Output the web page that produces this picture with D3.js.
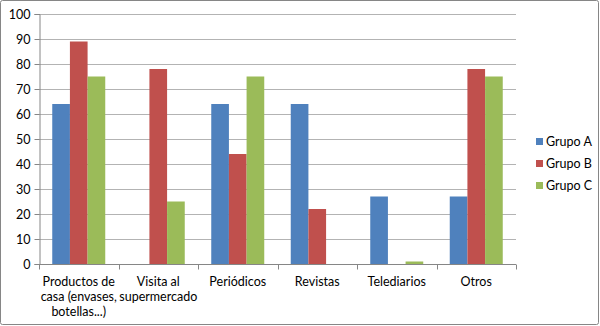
<!DOCTYPE html>
<html><head><meta charset="utf-8">
<script src="https://cdn.jsdelivr.net/npm/d3@7"></script>
<style>body{margin:0;background:#fff}svg{display:block}</style>
</head><body>
<script>
const categories = [["Productos de","casa (envases,","botellas...)"],["Visita al","supermercado"],["Periódicos"],["Revistas"],["Telediarios"],["Otros"]];
const seriesNames = ["Grupo A","Grupo B","Grupo C"];
const grupoA = [64, 0, 64, 64, 27, 27];
const grupoB = [89, 78, 44, 22, 0, 78];
const grupoC = [75, 25, 75, 0, 1, 75];
const yTicks = [0,10,20,30,40,50,60,70,80,90,100];
const colors = ["#4F81BD","#C0504D","#9BBB59"];

const W=600,H=326;
const svg=d3.select("body").append("svg").attr("width",W).attr("height",H);
svg.append("rect").attr("x",0.5).attr("y",0.5).attr("width",W-2).attr("height",H-2).attr("fill","#fff").attr("stroke","#868686").attr("rx",2);
const font="Lato, sans-serif";
const fs="12.5px";
const m={l:39,r:516,t:14,b:264};
const x0=d3.scaleBand().domain(d3.range(categories.length)).range([m.l,m.r]).paddingInner(0).paddingOuter(0);
const x1=d3.scaleBand().domain(d3.range(3)).range([x0.bandwidth()/6, x0.bandwidth()*5/6]).padding(0);
const y=d3.scaleLinear().domain([0,100]).range([m.b,m.t]);

// gridlines
svg.append("g").selectAll("line").data(yTicks.filter(d=>d>0)).join("line")
 .attr("x1",m.l).attr("x2",m.r).attr("y1",d=>Math.round(y(d))+0.5).attr("y2",d=>Math.round(y(d))+0.5)
 .attr("stroke","#B3B3B3").attr("stroke-width",1);

const data=[grupoA,grupoB,grupoC];
const g=svg.append("g");
data.forEach((s,si)=>{
  g.append("g").selectAll("rect").data(s).join("rect")
   .attr("x",(d,i)=>x0(i)+x1(si)).attr("width",x1.bandwidth())
   .attr("y",d=>y(d)).attr("height",d=>y(0)-y(d)).attr("fill",colors[si]);
});

// y axis
const ya=svg.append("g").attr("transform",`translate(${m.l+0.5},0)`)
 .call(d3.axisLeft(y).tickValues(yTicks).tickSize(5).tickPadding(4));
ya.select(".domain").attr("stroke","#868686");
ya.selectAll(".tick line").attr("stroke","#868686");
ya.selectAll("text").attr("font-family",font).attr("font-size",fs).attr("fill","#000");

// x axis
const xa=svg.append("g").attr("transform",`translate(0,${m.b+0.5})`);
xa.append("line").attr("x1",m.l).attr("x2",m.r).attr("stroke","#868686");
xa.selectAll(".tk").data(d3.range(categories.length+1)).join("line")
 .attr("x1",i=>Math.round(m.l+i*x0.bandwidth())+0.5).attr("x2",i=>Math.round(m.l+i*x0.bandwidth())+0.5)
 .attr("y1",0).attr("y2",5).attr("stroke","#868686");
categories.forEach((lines,i)=>{
  const t=xa.append("text").attr("text-anchor","middle").attr("font-family",font).attr("font-size",fs).attr("fill","#000");
  lines.forEach((ln,j)=>t.append("tspan").attr("x",x0(i)+x0.bandwidth()/2).attr("y",21+j*15).text(ln));
});

// legend
const lg=svg.append("g");
seriesNames.forEach((n,i)=>{
  lg.append("rect").attr("x",536).attr("y",138+i*22).attr("width",7).attr("height",7).attr("fill",colors[i]);
  lg.append("text").attr("x",546).attr("y",145.5+i*22).attr("font-family",font).attr("font-size",fs).text(n);
});
</script>
</body></html>
